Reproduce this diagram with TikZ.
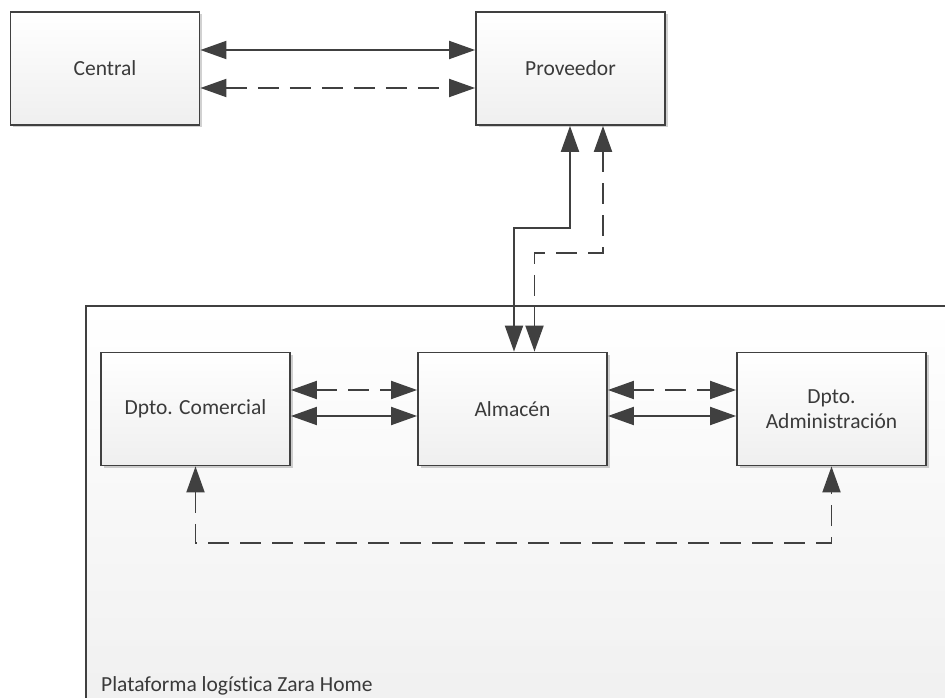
\documentclass[tikz,border=0pt]{standalone}
\usepackage{fontspec}
\setmainfont{Carlito}[Ligatures={NoCommon}]
\usetikzlibrary{arrows.meta,shadows}
\definecolor{edge}{HTML}{404040}
\definecolor{txt}{HTML}{3A3A3A}
\definecolor{shade}{HTML}{EFEFEF}
\tikzset{
  block/.style={draw=edge, line width=1.8pt, minimum width=189pt, minimum height=113pt,
    top color=white, bottom color=shade, text=txt, align=center,
    font=\fontsize{21.5}{25}\selectfont,
    drop shadow={shadow xshift=2.5pt, shadow yshift=-2.5pt, fill=black, opacity=0.18}},
  link/.style={draw=edge, line width=1.9pt, {Triangle[length=26pt,width=18pt]}-{Triangle[length=26pt,width=18pt]}},
  dashlink/.style={dash pattern=on 21pt off 11pt},
}
\begin{document}
\begin{tikzpicture}[x=1pt,y=-1pt]
\useasboundingbox (0,0) rectangle (945,698);
\fill[white] (0,0) rectangle (945,698);
\begin{scope}
  \clip (0,0) rectangle (945,698);
  % container of the logistics platform
  \shade[top color=white, bottom color=shade] (86,306) rectangle (960,740);
  \draw[edge, line width=1.8pt] (86,760) -- (86,306) -- (960,306);
\end{scope}
\node[anchor=base west, text=txt, font=\fontsize{21.5}{25}\selectfont, inner sep=0pt] (plat) at (101,691.5) {Plataforma logística Zara Home};

\node[block] (cen) at (105,68.5) {Central};
\node[block] (prov) at (570.5,68.5) {Proveedor};
\node[block] (com) at (195.5,409) {Dpto. Comercial};
\node[block] (alm) at (512.5,409) {Almacén};
\node[block] (adm) at (831.5,409) {Dpto.\\Administración};

% Central -- Proveedor
\draw[link] ([yshift=18.5pt]cen.east) -- ([yshift=18.5pt]prov.west);
\draw[link,dashlink] ([yshift=-19.5pt]cen.east) -- ([yshift=-19.5pt]prov.west);

% Proveedor -- Almacén
\draw[link] ([xshift=-0.5pt]prov.south) -- ([xshift=-0.5pt]prov.south |- 0,228) -| ([xshift=1.5pt]alm.north);
\draw[link,dashlink] ([xshift=32.5pt]prov.south) -- ([xshift=32.5pt]prov.south |- 0,253) -| ([xshift=22pt]alm.north);

% Comercial -- Almacén
\draw[link,dashlink] ([yshift=19pt]com.east) -- ([yshift=19pt]alm.west);
\draw[link] ([yshift=-7pt]com.east) -- ([yshift=-7pt]alm.west);

% Almacén -- Administración
\draw[link,dashlink] ([yshift=19pt]alm.east) -- ([yshift=19pt]adm.west);
\draw[link] ([yshift=-7pt]alm.east) -- ([yshift=-7pt]adm.west);

% Comercial -- Administración
\draw[link,dashlink] (com.south) -- (com.south |- 0,543) -| (adm.south);
\end{tikzpicture}
\end{document}
